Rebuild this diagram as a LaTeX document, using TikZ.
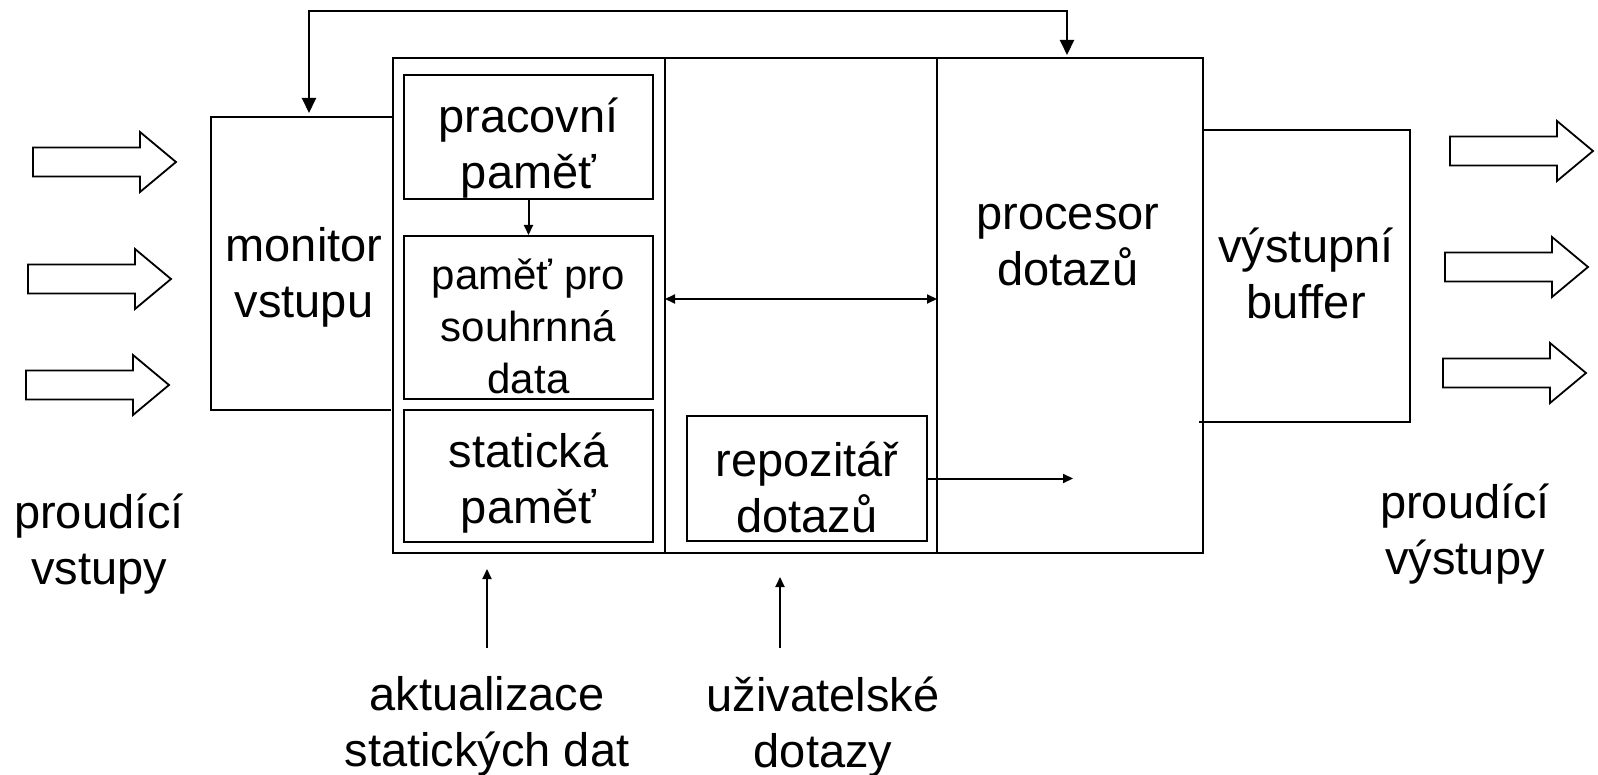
\documentclass[tikz,border=0pt]{standalone}
\usepackage{fontspec}
\setmainfont{Liberation Sans}
\usetikzlibrary{arrows.meta, positioning}
\tikzset{every picture/.style={line width=2pt}}
\tikzset{flow/.pic={\draw[line width=1.8pt] (-71.5,-14.5) -- (35.5,-14.5) -- (35.5,-30) -- (71.5,0)
    -- (35.5,30) -- (35.5,14.5) -- (-71.5,14.5) -- cycle;}}

\begin{document}
\begin{tikzpicture}[x=1pt, y=-1pt, >={Triangle[length=10pt,width=9pt]},
    box/.style={draw, inner sep=0pt},
    big/.style={font=\fontsize{47}{56}\selectfont, align=center},
    small/.style={font=\fontsize{42}{52}\selectfont, align=center}]
    \useasboundingbox (0,0) rectangle (1598,775);

    % main block and its parts
    \node[box, minimum width=810pt, minimum height=495pt] (main) at (798,305.5) {};
    \node[box, minimum width=249pt, minimum height=124pt] (prac) at (528.5,137) {};
    \node[box, minimum width=249pt, minimum height=163pt] (pam) at (528.5,317.5) {};
    \node[box, minimum width=249pt, minimum height=132pt] (stat) at (528.5,476) {};
    \node[box, minimum width=240pt, minimum height=125pt] (repo) at (807,478.5) {};
    \node[big] (pracT) at ([yshift=-11pt]prac) {pracovní\\paměť};
    \node[small] (pamT) at ([yshift=-9pt]pam) {paměť pro\\souhrnná\\data};
    \node[big] (statT) at ([yshift=-7pt]stat) {statická\\paměť};
    \node[big] (repoT) at ([yshift=-9pt]repo) {repozitář\\dotazů};
    \node[big] (proc) at (1068,245) {procesor\\dotazů};

    % monitor and buffer
    \node[minimum width=181pt, minimum height=291pt, inner sep=0pt] (mon) at (302.5,263.5) {};
    \node[big] (monT) at (304,277) {monitor\\vstupu};
    \node[minimum width=206pt, minimum height=290pt, inner sep=0pt] (buf) at (1306,276) {};
    \node[big] (bufT) at (1306,273) {výstupní\\buffer};
    \draw (mon.north east) -- (mon.north west) -- (mon.south west) -- ([xshift=-3pt]mon.south east);
    \draw (buf.north west) -- (buf.north east) -- (buf.south east) -- ([xshift=-3pt]buf.south west);

    % streams
    \pic (in1) at (104.5,162) {flow};
    \pic (in2) at (99.5,279) {flow};
    \pic (in3) at (97.5,385) {flow};
    \pic (out1) at (1521.5,151) {flow};
    \pic (out2) at (1516.5,267) {flow};
    \pic (out3) at (1514.5,373) {flow};

    % labels
    \node[big] (pin) at (99,544) {proudící\\vstupy};
    \node[big] (pout) at (1465,534) {proudící\\výstupy};
    \node[big] (akt) at (487,726) {aktualizace\\statických dat};
    \node[big] (uziv) at (823,727) {uživatelské\\dotazy};

    % dividers
    \coordinate (dl) at (665,299);
    \coordinate (dr) at (937,299);
    \draw (dl |- main.north) -- (dl |- main.south);
    \draw (dr |- main.north) -- (dr |- main.south);

    % connections
    \draw[->] (prac) -- (pam);
    \draw[<->] (dl) -- (dr);
    \coordinate (qin) at (1073,480);
    \draw[->] (repo.east) -- (repo.east -| qin);
    \coordinate (aktfoot) at (487,648);
    \coordinate (uzfoot) at (780,648);
    \draw[->, shorten >=15pt] (aktfoot) -- (aktfoot |- main.south);
    \draw[->, shorten >=23pt] (uzfoot) -- (uzfoot |- main.south);
    \coordinate (fbl) at (309,118);
    \coordinate (fbr) at (1067,58);
    \draw[<->, >={Triangle[length=15pt,width=14pt]}, shorten <=5pt, shorten >=3pt]
        (fbl) -- ++(0,-107) -| (fbr);
\end{tikzpicture}
\end{document}
